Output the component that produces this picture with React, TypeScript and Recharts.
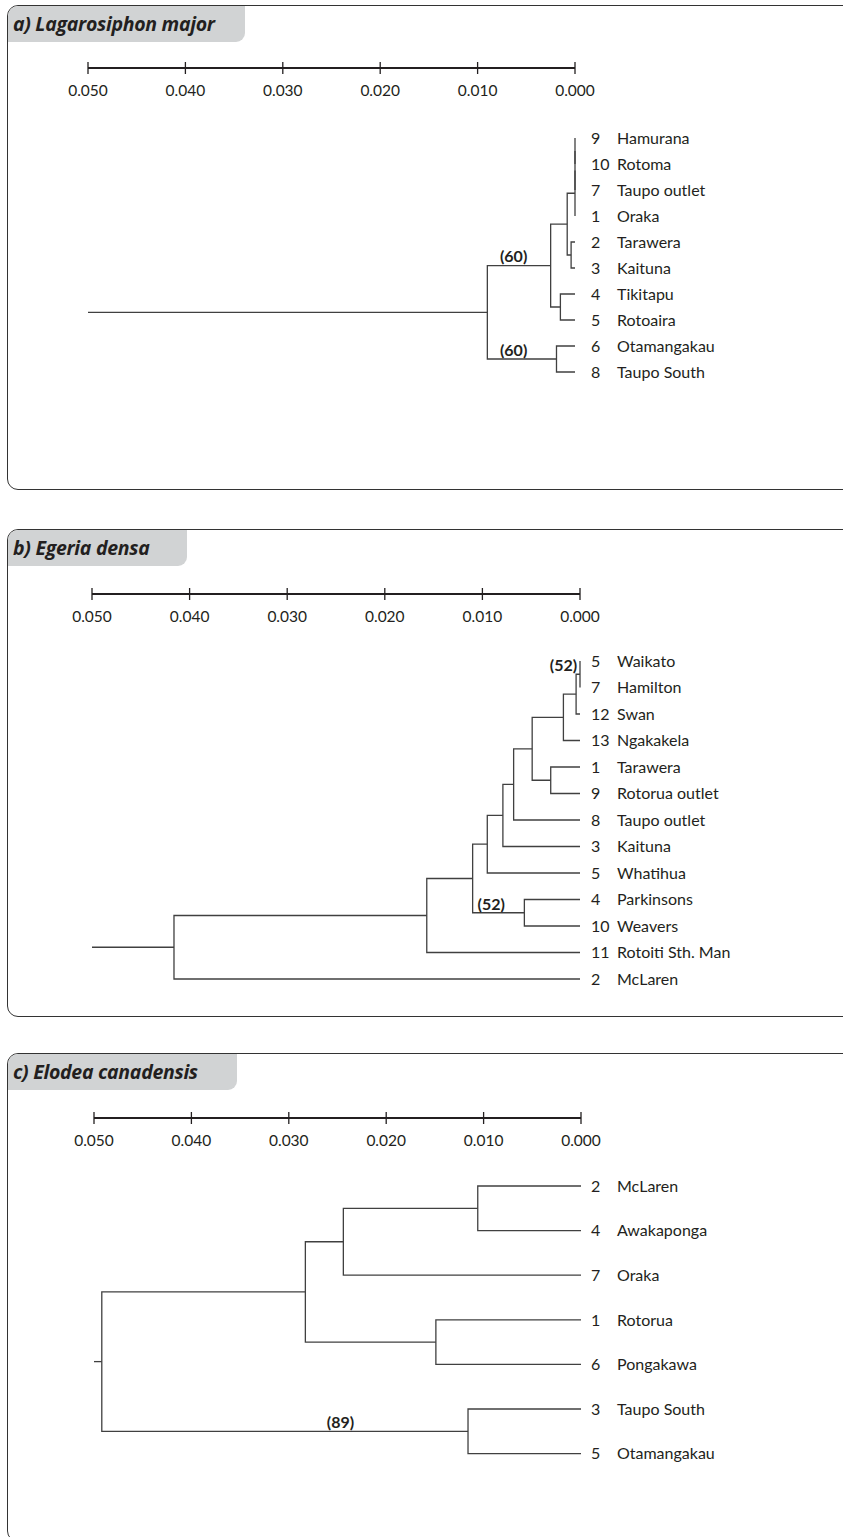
import React from 'react';
import { ComposedChart, Line, Scatter, XAxis, YAxis } from 'recharts';

const INK = '#231f20';
const BRANCH = '#404040';
const TAB_GREY = '#d1d3d4';
const SANS = "Lato, 'Open Sans', sans-serif";
const TITLE_FONT = "'Open Sans', Lato, sans-serif";

const SCALE_TICKS = [0, 0.01, 0.02, 0.03, 0.04, 0.05];
const SCALE_MAX = 0.05;

// merges: [child, child, height]  'Lk' = leaf k (top to bottom), 'Nk' = k-th merge
type Merge = [string, string, number];

// a) Lagarosiphon major
const leavesA = ['Hamurana', 'Rotoma', 'Taupo outlet', 'Oraka', 'Tarawera', 'Kaituna', 'Tikitapu', 'Rotoaira', 'Otamangakau', 'Taupo South'];
const numsA = [9, 10, 7, 1, 2, 3, 4, 5, 6, 8];
const mergesA: Merge[] = [
  ['L0', 'L1', 0],
  ['N0', 'L2', 0],
  ['N1', 'L3', 0],
  ['L4', 'L5', 0.0004],
  ['N2', 'N3', 0.0008],
  ['L6', 'L7', 0.0015],
  ['N4', 'N5', 0.0025],
  ['L8', 'L9', 0.0019],
  ['N6', 'N7', 0.009],
];
const supportA = [
  { node: 'N6', text: '(60)', at: 0.0063 },
  { node: 'N7', text: '(60)', at: 0.0063 },
];

// b) Egeria densa
const leavesB = ['Waikato', 'Hamilton', 'Swan', 'Ngakakela', 'Tarawera', 'Rotorua outlet', 'Taupo outlet', 'Kaituna', 'Whatihua', 'Parkinsons', 'Weavers', 'Rotoiti Sth. Man', 'McLaren'];
const numsB = [5, 7, 12, 13, 1, 9, 8, 3, 5, 4, 10, 11, 2];
const mergesB: Merge[] = [
  ['L0', 'L1', 0],
  ['N0', 'L2', 0.0004],
  ['N1', 'L3', 0.0017],
  ['L4', 'L5', 0.003],
  ['N2', 'N3', 0.0049],
  ['N4', 'L6', 0.0068],
  ['N5', 'L7', 0.0079],
  ['N6', 'L8', 0.0095],
  ['L9', 'L10', 0.0057],
  ['N7', 'N8', 0.011],
  ['N9', 'L11', 0.0157],
  ['N10', 'L12', 0.0416],
];
const supportB = [
  { node: 'N0', text: '(52)', at: 0.0017 },
  { node: 'N8', text: '(52)', at: 0.0091 },
];

// c) Elodea canadensis
const leavesC = ['McLaren', 'Awakaponga', 'Oraka', 'Rotorua', 'Pongakawa', 'Taupo South', 'Otamangakau'];
const numsC = [2, 4, 7, 1, 6, 3, 5];
const mergesC: Merge[] = [
  ['L0', 'L1', 0.0106],
  ['N0', 'L2', 0.0244],
  ['L3', 'L4', 0.0149],
  ['N1', 'N2', 0.0283],
  ['L5', 'L6', 0.0116],
  ['N3', 'N4', 0.0492],
];
const supportC = [{ node: 'N4', text: '(89)', at: 0.0247 }];

const panels = [
  { title: 'a) Lagarosiphon major', leaves: leavesA, nums: numsA, merges: mergesA, support: supportA,
    top: 5, bottom: 490, tabW: 238, x0: 88, x1: 575, axisY: 68, leafTop: 138, rowH: 26 },
  { title: 'b) Egeria densa', leaves: leavesB, nums: numsB, merges: mergesB, support: supportB,
    top: 529, bottom: 1017, tabW: 180, x0: 92, x1: 580, axisY: 594, leafTop: 661, rowH: 26.5 },
  { title: 'c) Elodea canadensis', leaves: leavesC, nums: numsC, merges: mergesC, support: supportC,
    top: 1053, bottom: 1542, tabW: 230, x0: 94, x1: 581, axisY: 1118, leafTop: 1186, rowH: 44.6 },
];

const WIDTH = 843;
const AXIS_H = 20;
const NUM_X = 591;
const NAME_X = 617;

function layoutTree(n: number, merges: Merge[]) {
  const pos: Record<string, { d: number; y: number }> = {};
  for (let i = 0; i < n; i++) pos['L' + i] = { d: 0, y: i };
  const brackets = merges.map(([a, b, h], k) => {
    const A = pos[a];
    const B = pos[b];
    pos['N' + k] = { d: h, y: (A.y + B.y) / 2 };
    return [
      { d: A.d, y: A.y },
      { d: h, y: A.y },
      { d: h, y: B.y },
      { d: B.d, y: B.y },
    ];
  });
  const root = pos['N' + (merges.length - 1)];
  return { pos, brackets, root };
}

const ScaleTick = (props: any) => {
  const { x, y, payload } = props;
  return (
    <g>
      <line x1={x} x2={x} y1={y - 6} y2={y + 6} stroke={INK} strokeWidth={1.3} />
      <text x={x} y={y + 28} textAnchor="middle" fontFamily={SANS} fontSize={15.5} fill={INK}>
        {Number(payload.value).toFixed(3)}
      </text>
    </g>
  );
};

const Panel = ({ p }: { p: (typeof panels)[number] }) => {
  const H = p.bottom - p.top;
  const axisRel = p.axisY - p.top;
  const plotH = H - axisRel;
  const yMin = -(p.leafTop - p.axisY) / p.rowH;
  const yMax = yMin + plotH / p.rowH;
  const { pos, brackets, root } = layoutTree(p.leaves.length, p.merges);
  const stub = [
    { d: root.d, y: root.y },
    { d: SCALE_MAX, y: root.y },
  ];
  const leafData = p.leaves.map((name, i) => ({ d: 0, y: i, name, num: p.nums[i] }));
  const supportData = p.support.map((s) => ({ d: s.at, y: pos[s.node].y, text: s.text }));
  const numOff = NUM_X - p.x1;
  const nameOff = NAME_X - p.x1;

  const leafShape = (props: any) => {
    const { cx, cy, payload } = props;
    return (
      <g>
        <text x={cx + numOff} y={cy} dy="0.36em" fontFamily={SANS} fontSize={16} fill={INK}>{payload.num}</text>
        <text x={cx + nameOff} y={cy} dy="0.36em" fontFamily={SANS} fontSize={16} fill={INK}>{payload.name}</text>
      </g>
    );
  };
  const supportShape = (props: any) => {
    const { cx, cy, payload } = props;
    return (
      <text x={cx} y={cy - 9} dy="0.36em" textAnchor="middle" fontFamily={SANS} fontWeight={700} fontSize={16} fill={INK}>
        {payload.text}
      </text>
    );
  };

  return (
    <>
      <div
        style={{
          position: 'absolute', left: 7, top: p.top, width: 900, height: H,
          border: '1.3px solid #333', borderRadius: '11px 0 0 11px', boxSizing: 'border-box',
        }}
      >
        <div
          style={{
            position: 'absolute', left: 0, top: 0, width: p.tabW - 1, height: 36, background: TAB_GREY,
            borderTopLeftRadius: 10, borderBottomRightRadius: 9,
          }}
        >
          <span
            style={{
              position: 'absolute', left: 5, top: 5, fontFamily: TITLE_FONT, fontStyle: 'italic',
              fontWeight: 700, fontSize: 19.5, lineHeight: '26px', color: INK, whiteSpace: 'nowrap',
              letterSpacing: -0.3,
            }}
          >
            {p.title}
          </span>
        </div>
      </div>
      <div style={{ position: 'absolute', left: 0, top: p.top }}>
        <ComposedChart
          width={WIDTH}
          height={H}
          margin={{ top: axisRel - AXIS_H, right: WIDTH - p.x1, bottom: 0, left: p.x0 }}
        >
          <XAxis
            type="number"
            dataKey="d"
            domain={[0, SCALE_MAX]}
            ticks={SCALE_TICKS}
            interval={0}
            reversed
            orientation="top"
            height={AXIS_H}
            tickSize={0}
            tickMargin={0}
            tickLine={false}
            axisLine={{ stroke: INK, strokeWidth: 2 }}
            tick={<ScaleTick />}
          />
          <YAxis type="number" dataKey="y" domain={[yMin, yMax]} reversed hide />
          {brackets.map((b, i) => (
            <Line
              key={i}
              data={b}
              dataKey="y"
              type="linear"
              stroke={BRANCH}
              strokeWidth={1.3}
              dot={false}
              activeDot={false}
              isAnimationActive={false}
            />
          ))}
          <Line
            data={stub}
            dataKey="y"
            type="linear"
            stroke={BRANCH}
            strokeWidth={1.3}
            dot={false}
            activeDot={false}
            isAnimationActive={false}
          />
          <Scatter data={leafData} shape={leafShape} isAnimationActive={false} />
          <Scatter data={supportData} shape={supportShape} isAnimationActive={false} />
        </ComposedChart>
      </div>
    </>
  );
}

export default function App() {
  return (
    <div
      style={{
        position: 'absolute', left: 0, top: 0, width: WIDTH, height: 1537,
        overflow: 'hidden', background: '#fff',
      }}
    >
      {panels.map((p) => (
        <Panel key={p.title} p={p} />
      ))}
    </div>
  );
}
